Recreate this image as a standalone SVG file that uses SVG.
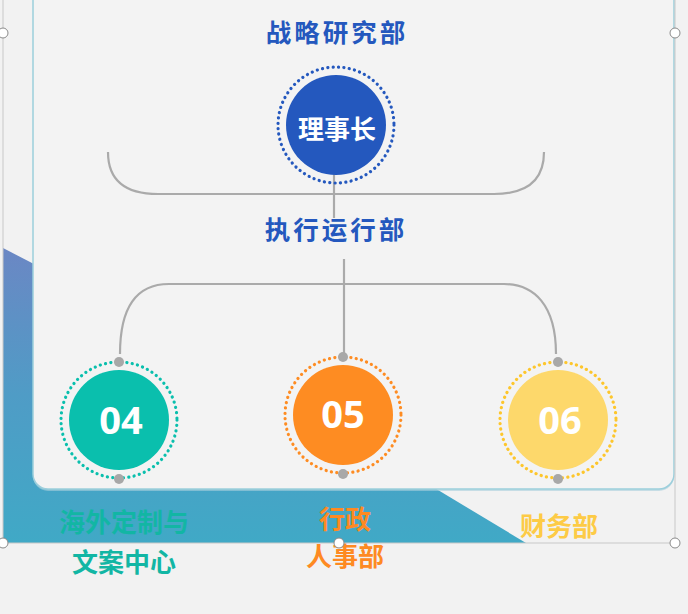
<svg xmlns="http://www.w3.org/2000/svg" width="688" height="614" viewBox="0 0 688 614">
<defs>
<linearGradient id="bg" x1="0" y1="0" x2="0" y2="1">
<stop offset="0" stop-color="#6b87c4"/>
<stop offset="0.5" stop-color="#4f9cc6"/>
<stop offset="1" stop-color="#40a9c6"/>
</linearGradient>
<style>
.t{font-family:"Noto Sans CJK SC","Microsoft YaHei",sans-serif;font-weight:bold;text-anchor:middle}
.num{font-family:"Open Sans","Liberation Sans",sans-serif;font-weight:bold;text-anchor:middle;fill:#fff;font-size:38px}
.conn{fill:none;stroke:#aaaaaa;stroke-width:2.2}
.dot{fill:#a8a8a8}
.ring{fill:none;stroke-width:3.2;stroke-dasharray:0.1 5.3;stroke-linecap:round}
.handle{fill:#fff;stroke:#8a8a8a;stroke-width:1}
</style>
</defs>
<rect width="688" height="614" fill="#f2f2f2"/>
<g id="background">
<polygon points="3,248 200,350 438,490 526,543 3,543" fill="url(#bg)"/>
<rect x="33" y="-20" width="641" height="511" rx="15" fill="#a9cfdc" opacity="0.6"/>
<rect x="33" y="-20" width="641" height="509" rx="15" fill="#f3f3f3" stroke="#9ccfdc" stroke-width="1.5"/>
</g>
<g id="connectors">
<line class="conn" x1="334" y1="174" x2="334" y2="218"/>
<path class="conn" d="M108,152 Q108,194 158,194 H494 Q544,194 544,152"/>
<line class="conn" x1="344" y1="259" x2="344" y2="357"/>
<path class="conn" d="M120,354 C120,305 138,284 169,284 H504 C534,284 556,305 556,354"/>
</g>
<g id="title-strategy">
<text class="t" x="337" y="42" font-size="25.5" fill="#2458be" letter-spacing="3">战略研究部</text>
</g>
<g id="node-chairman">
<circle cx="336" cy="125" r="58" class="ring" stroke="#2458be"/>
<circle cx="336" cy="125" r="50" fill="#2458be"/>
<text class="t" x="337" y="139" font-size="26" fill="#fff">理事长</text>
</g>
<g id="title-exec">
<text class="t" x="336" y="239" font-size="25.5" fill="#2458be" letter-spacing="3">执行运行部</text>
</g>
<g id="node-04">
<circle cx="119" cy="420" r="58" class="ring" stroke="#0abfad"/>
<circle cx="119" cy="420" r="50" fill="#0abfad"/>
<circle class="dot" cx="119" cy="362" r="5"/>
<circle class="dot" cx="119" cy="479" r="5"/>
<text class="num" x="121" y="434">04</text>
</g>
<g id="node-05">
<circle cx="343" cy="415" r="58" class="ring" stroke="#fe8c22"/>
<circle cx="343" cy="415" r="50" fill="#fe8c22"/>
<circle class="dot" cx="343" cy="357" r="5"/>
<circle class="dot" cx="343" cy="474" r="5"/>
<text class="num" x="343" y="428">05</text>
</g>
<g id="node-06">
<circle cx="558" cy="420" r="58" class="ring" stroke="#fdc62c"/>
<circle cx="558" cy="420" r="50" fill="#fdd86b"/>
<circle class="dot" cx="558" cy="362" r="5"/>
<circle class="dot" cx="558" cy="479" r="5"/>
<text class="num" x="560" y="434">06</text>
</g>
<g id="label-04">
<text class="t" x="124" y="532" font-size="26" fill="#12b6a4">海外定制与</text>
<text class="t" x="124" y="572" font-size="26" fill="#12b6a4">文案中心</text>
</g>
<g id="label-05">
<text class="t" x="345" y="529" font-size="26" fill="#fe8a22">行政</text>
<text class="t" x="345" y="566" font-size="26" fill="#fe8a22">人事部</text>
</g>
<g id="label-06">
<text class="t" x="559" y="536" font-size="26" fill="#fdcb46">财务部</text>
</g>
<g id="selection-frame">
<polyline points="3,0 3,543 675,543 675,0" fill="none" stroke="#c8c8c8" stroke-width="1"/>
<circle class="handle" cx="3" cy="33" r="5"/>
<circle class="handle" cx="675" cy="33" r="5"/>
<circle class="handle" cx="3" cy="543" r="5"/>
<circle class="handle" cx="339" cy="543" r="5"/>
<circle class="handle" cx="675" cy="543" r="5"/>
</g>
</svg>
